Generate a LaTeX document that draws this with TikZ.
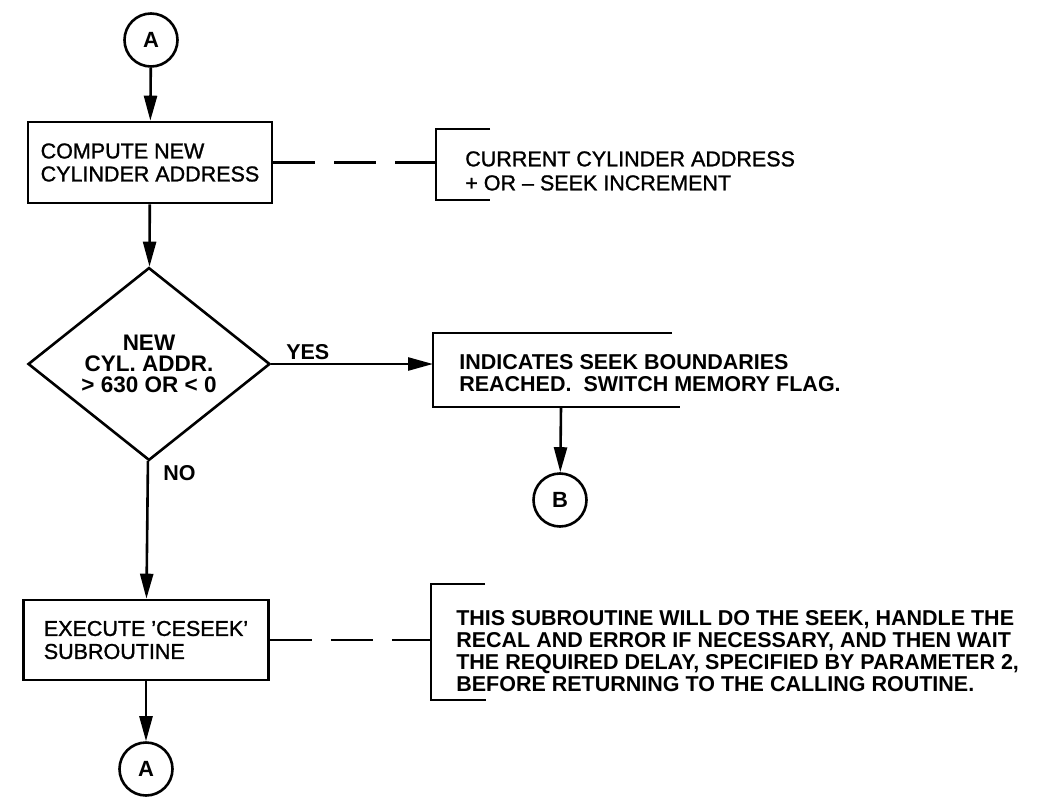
\documentclass[tikz,border=0pt]{standalone}
\usepackage{fontspec}
\setmainfont{Liberation Sans}
\newfontfamily\medfont[FakeBold=1.2,Ligatures=TeX]{Liberation Sans}
\usetikzlibrary{shapes.geometric,arrows.meta}
\begin{document}
\begin{tikzpicture}[x=1pt,y=-1pt,
  line width=2.6pt,
  arr/.style={-{Triangle[length=25pt,width=13pt]}},
  conn/.style={draw, circle, minimum size=53pt, inner sep=0pt,
    font=\bfseries\fontsize{22}{23}\selectfont},
  proc/.style={draw, rectangle, inner sep=0pt, align=left,
    font=\medfont\fontsize{21.5}{23}\selectfont},
  decis/.style={draw, diamond, inner sep=0pt, align=center,
    minimum width=242pt, minimum height=162pt,
    font=\bfseries\fontsize{22.5}{21}\selectfont},
  note/.style={anchor=north west, inner sep=0pt, align=left},
  lbl/.style={anchor=base west, inner sep=0pt,
    font=\bfseries\fontsize{21.5}{23}\selectfont},
  dsh/.style={dash pattern=on 42pt off 19pt},
]
\useasboundingbox[fill=white] (0,0) rectangle (1049,797);

% main column
\node[conn] (A1) at (151,40) {A};
\node[proc, minimum width=244pt, minimum height=81pt] (P1) at (150,162.5)
  {COMPUTE NEW\\CYLINDER ADDRESS};
\node[decis] (D) at (149,364) {NEW\\CYL. ADDR.\\> 630 OR < 0};
\node[proc, minimum width=245pt, minimum height=80pt] (P2) at (146,640)
  {EXECUTE ’CESEEK’\\SUBROUTINE};
\node[conn] (A2) at (146,769) {A};

\draw[arr] (A1) -- (P1);
\draw[arr] (P1) -- (D);
\draw[arr] (D) -- (P2);
\draw[arr] (P2) -- (A2);

% annotation 1
\coordinate (K1) at (436,162.5);
\draw (490,129) -- (436,129) -- (436,200) -- (490,200);
\node[note, font=\medfont\fontsize{21.5}{24}\selectfont] (N1) at (464,150)
  {CURRENT CYLINDER ADDRESS\\+ OR – SEEK INCREMENT};
\draw[dsh] (P1.east) -- (K1);

% YES branch
\coordinate (K3) at (433,364);
\coordinate (K3b) at (561,407);
\draw (672,333) -- (433,333) -- (433,407) -- (680,407);
\node[note, font=\bfseries\fontsize{21.5}{22}\selectfont] (N3) at (458,353)
  {INDICATES SEEK BOUNDARIES\\REACHED.\ \ SWITCH MEMORY FLAG.};
\draw[arr] (D.east) -- (K3);
\node[lbl] (YES) at (285,359) {YES};
\node[conn] (B) at (560,500) {B};
\draw[arr] (K3b) -- (B);

% NO label
\node[lbl] (NO) at (162,480) {NO};

% annotation 2
\coordinate (K2) at (431,640);
\draw (485,584) -- (431,584) -- (431,700) -- (486,700);
\node[note, font=\bfseries\fontsize{21.5}{22}\selectfont] (N2) at (455,609)
  {THIS SUBROUTINE WILL DO THE SEEK, HANDLE THE\\
   RECAL AND ERROR IF NECESSARY, AND THEN WAIT\\
   THE REQUIRED DELAY, SPECIFIED BY PARAMETER 2,\\
   BEFORE RETURNING TO THE CALLING ROUTINE.};
\draw[dsh] (P2.east) -- (K2);
\end{tikzpicture}
\end{document}
